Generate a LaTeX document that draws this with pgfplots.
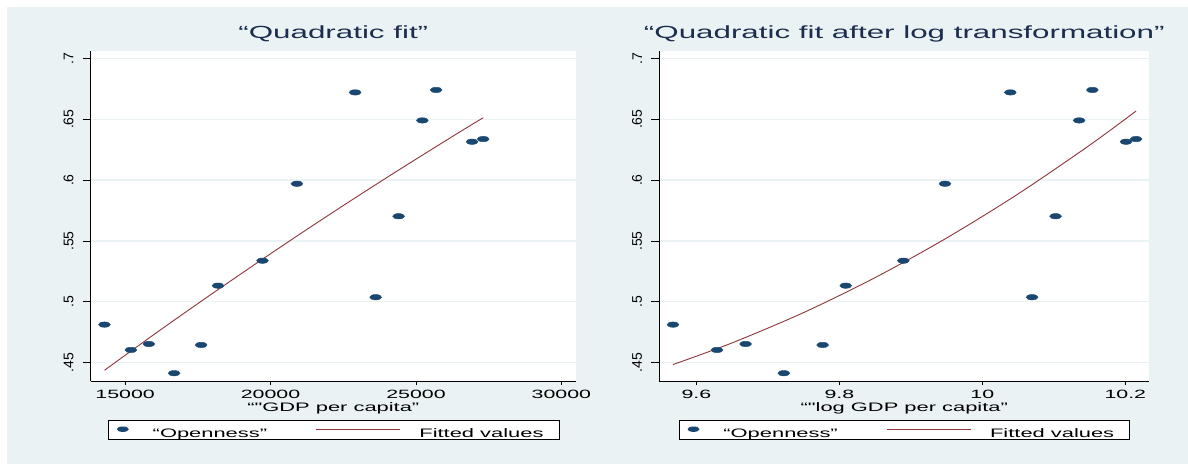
\documentclass[border=0pt]{standalone}
\usepackage{pgfplots}
\pgfplotsset{compat=1.18}
\usepackage{fontspec}
\setmainfont{Liberation Sans}
\newfontfamily\stfont{Liberation Sans}[FakeStretch=1.78]
\newfontfamily\yfont{Liberation Sans}
\definecolor{bgc}{HTML}{EAF2F3}
\definecolor{navyc}{HTML}{1A476F}
\definecolor{maroonc}{HTML}{90353B}
\definecolor{titlec}{HTML}{1C2D4F}

\pgfplotstableread{
x y
22908 0.672
25694 0.674
25220 0.649
26929 0.6315
27312 0.6337
20907 0.597
24403 0.5703
19723 0.5338
18196 0.5133
23614 0.5038
14290 0.4813
15197 0.4605
15817 0.4654
17616 0.4646
16685 0.4414
}\leftdata

\pgfplotstableread{
x y
14290 0.4438
16011 0.4735
17731 0.5024
19450 0.5306
21170 0.5582
22889 0.5851
24609 0.6113
26328 0.6369
27312 0.6512
}\leftfit

\pgfplotstableread{
x y
10.0392 0.672
10.1540 0.674
10.1354 0.649
10.2010 0.6315
10.2151 0.6337
9.9478 0.597
10.1025 0.5703
9.8895 0.5338
9.8090 0.5133
10.0696 0.5038
9.5673 0.4813
9.6289 0.4605
9.6688 0.4654
9.7766 0.4646
9.7223 0.4414
}\rightdata

\pgfplotstableread{
x y
9.5673 0.4485
9.65 0.4663
9.75 0.4912
9.85 0.5199
9.95 0.5524
10.05 0.5886
10.15 0.6286
10.2151 0.6567
}\rightfit

\newcommand{\lstrut}{\rule[-4.7pt]{0pt}{22pt}}

\pgfplotsset{
  stataax/.style={
    scale only axis, height=330pt,
    ymin=0.435, ymax=0.706,
    axis x line=bottom, axis y line=left,
    axis line style={-, line width=0.8pt, black},
    tick align=outside, major tick length=8pt,
    xtick style={/pgfplots/major tick length=4pt},
    tick style={black, line width=0.8pt},
    scaled x ticks=false, scaled y ticks=false,
    ytick={0.45,0.5,0.55,0.6,0.65,0.7},
    yticklabels={.45,.5,.55,.6,.65,.7},
    ymajorgrids, grid style={bgc, line width=1.2pt},
    axis background/.style={fill=white},
    yticklabel style={font=\yfont\fontsize{14}{14}\selectfont, inner sep=0pt, xshift=-9pt, rotate=90, anchor=south},
    xticklabel style={font=\stfont\fontsize{12}{12}\selectfont, inner sep=0pt, text height=8.6pt, text depth=0pt, anchor=north, yshift=-1pt},
    title style={font=\stfont\fontsize{17.6}{18}\selectfont, text=titlec, at={(0.5,1)}, anchor=base, yshift=6pt, inner sep=0pt},
    xlabel style={font=\stfont\fontsize{12.3}{12.3}\selectfont, at={(0.5,0)}, anchor=base, yshift=-30.5pt, inner sep=0pt},
    legend columns=2,
    legend cell align=left,
    legend style={anchor=north west, draw=black, line width=0.8pt, fill=white,
      inner xsep=0pt, inner ysep=0pt,
      font=\stfont\fontsize{12.3}{12.3}\selectfont,
      nodes={inner sep=0pt},
      /tikz/every even column/.append style={column sep=0pt}},
  },
  scat/.style={only marks, mark=*, mark size=2.7pt,
    mark options={xscale=2.2, fill=navyc, draw=navyc},
    legend image code/.code={\path[draw=none,fill=none] (0pt,0pt) -- (44pt,0pt); \fill[navyc,draw=none] (14.1pt,0.6pt) ellipse (6pt and 2.7pt);}},
  fitl/.style={maroonc, line width=0.9pt, smooth, no marks,
    legend image code/.code={\path[draw=none,fill=none] (0pt,0pt) -- (152.3pt,0pt); \draw[maroonc, line width=0.9pt] (49.3pt,0.6pt) -- (133.3pt,0.6pt);}},
}

\begin{document}
\begin{tikzpicture}
\fill[white] (0,0) rectangle (1188pt,464pt);
\fill[bgc] (7pt,0pt) rectangle (1188pt,457pt);

\begin{axis}[stataax, at={(90.7pt,83pt)}, anchor=south west, width=485.2pt,
  xmin=13817, xmax=30499,
  xtick={15000,20000,25000,30000}, xticklabels={15000,20000,25000,30000},
  title={“Quadratic fit”},
  xlabel={“"GDP per capita”},
  legend style={at={(0.0363,-0.1182)}}]
\addplot[scat] table[x=x,y=y] {\leftdata};
\addplot[fitl] table[x=x,y=y] {\leftfit};
\legend{\lstrut“Openness”, \lstrut Fitted values\kern15.6pt}
\end{axis}

\begin{axis}[stataax, at={(659.2pt,83pt)}, anchor=south west, width=490.1pt,
  xmin=9.548, xmax=10.2336,
  xtick={9.6,9.8,10,10.2}, xticklabels={9.6,9.8,10,10.2},
  title={“Quadratic fit after log transformation”},
  xlabel={“"log GDP per capita”},
  legend style={at={(0.0404,-0.1182)}}]
\addplot[scat] table[x=x,y=y] {\rightdata};
\addplot[fitl] table[x=x,y=y] {\rightfit};
\legend{\lstrut“Openness”, \lstrut Fitted values\kern15.6pt}
\end{axis}

\pgfresetboundingbox
\path (0,0) rectangle (1188pt,464pt);
\end{tikzpicture}
\end{document}
